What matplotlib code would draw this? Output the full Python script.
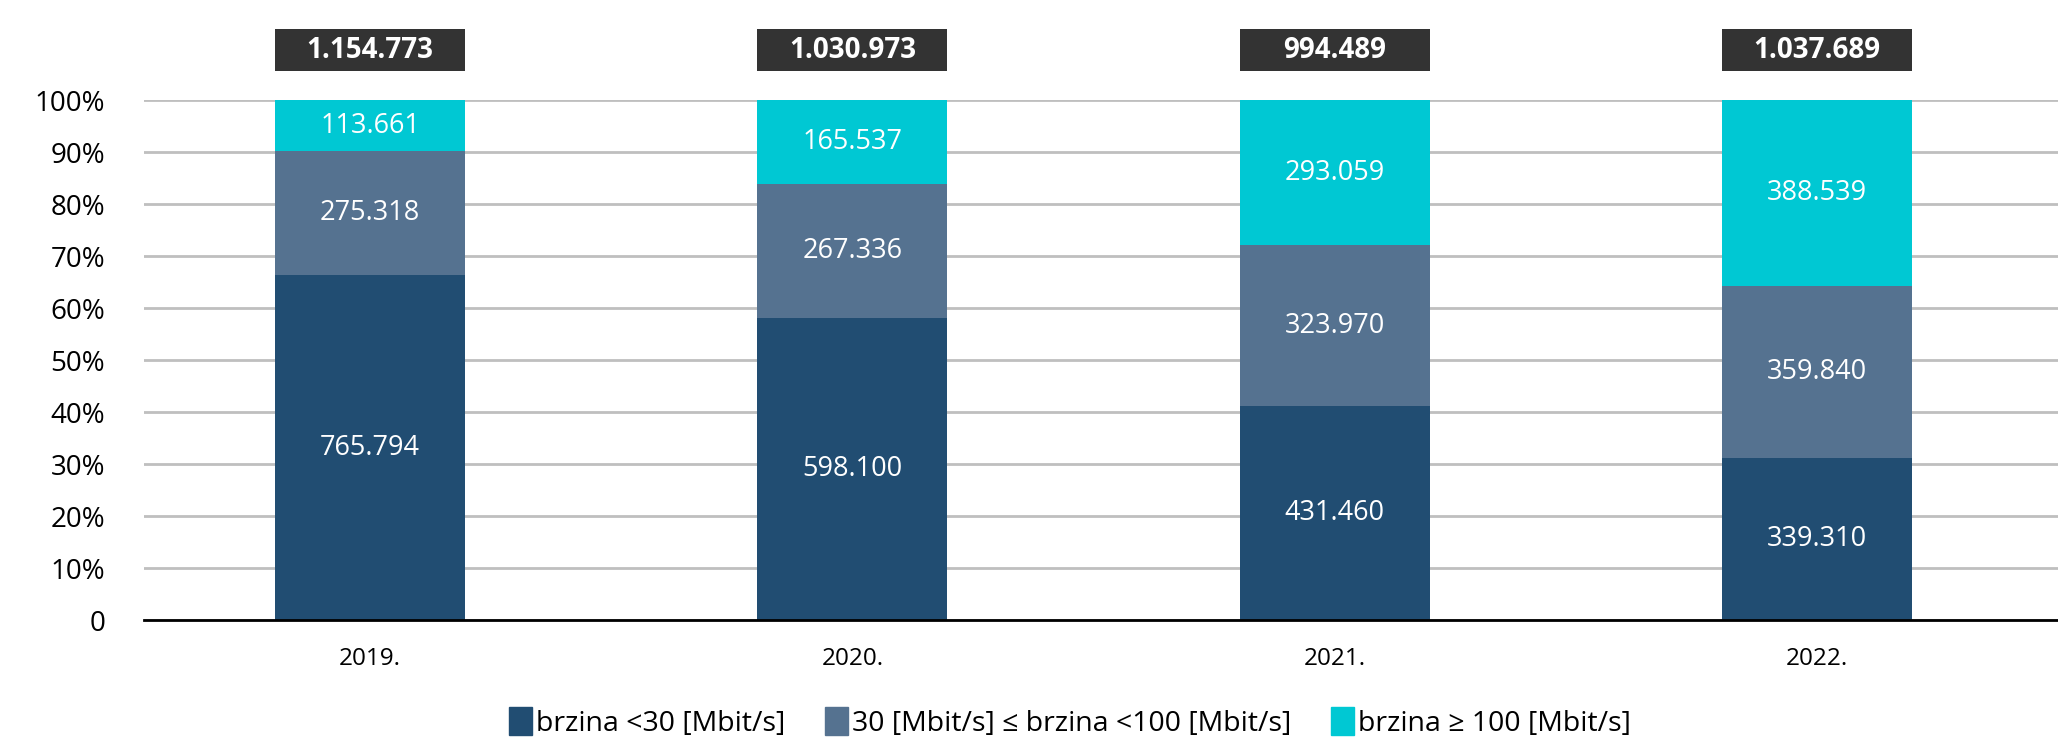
import numpy as np
import matplotlib.pyplot as plt
from matplotlib.patches import Patch

plt.rcParams['font.family'] = ['Open Sans', 'DejaVu Sans']

years = ["2019.", "2020.", "2021.", "2022."]
slow = [765794, 598100, 431460, 339310]
mid = [275318, 267336, 323970, 359840]
fast = [113661, 165537, 293059, 388539]
totals = ["1.154.773", "1.030.973", "994.489", "1.037.689"]

series_names = ["brzina <30 [Mbit/s]",
                "30 [Mbit/s] ≤ brzina <100 [Mbit/s]",
                "brzina ≥ 100 [Mbit/s]"]
colors = ["#214d72", "#557290", "#00c8d3"]


def fmt(v):
    return f"{v:,}".replace(",", ".")


fig = plt.figure(figsize=(20.58, 7.41), dpi=100)
ax = fig.add_axes([0.07, 0.163, 0.93, 0.702])

x = np.arange(len(years))
vals = np.array([slow, mid, fast], dtype=float)
shares = vals / vals.sum(axis=0) * 100
width = 0.394

bottom = np.zeros(len(years))
for i in range(3):
    ax.bar(x, shares[i], width, bottom=bottom, color=colors[i], zorder=2)
    for j in range(len(years)):
        ax.text(x[j], bottom[j] + shares[i][j] / 2, fmt(int(vals[i][j])),
                ha="center", va="center", color="white", fontsize=19.5,
                zorder=3)
    bottom += shares[i]

# dark total boxes above the bars, same width as the bars
ax.bar(x, 8, width, bottom=105.6, color="#333333", clip_on=False, zorder=3)
for j in range(len(years)):
    ax.text(x[j], 109.6, totals[j], ha="center", va="center", color="white",
            fontsize=20, fontweight="bold", zorder=4, clip_on=False)

ax.set_xlim(-0.469, 3.5)
ax.set_ylim(0, 100)
ax.set_yticks(np.arange(0, 101, 10))
ax.set_yticklabels(["0"] + [f"{v}%" for v in range(10, 101, 10)], fontsize=20)
ax.set_xticks(x)
ax.set_xticklabels(years, fontsize=17.5)
ax.tick_params(axis="y", length=0, pad=28)
ax.tick_params(axis="x", length=0, pad=19)
ax.grid(axis="y", color="#bfbfbf", linewidth=2, zorder=0)
for s in ["top", "right", "left"]:
    ax.spines[s].set_visible(False)
ax.spines["bottom"].set_linewidth(2)
ax.spines["bottom"].set_zorder(5)

handles = [Patch(color=c) for c in colors]
fig.legend(handles, series_names, loc="center", bbox_to_anchor=(0.52, 0.025),
           ncol=3, frameon=False, fontsize=20.5, handlelength=0.8,
           handleheight=1.15, handletextpad=0.15, columnspacing=1.4)

fig.savefig("out.png", dpi=100)
